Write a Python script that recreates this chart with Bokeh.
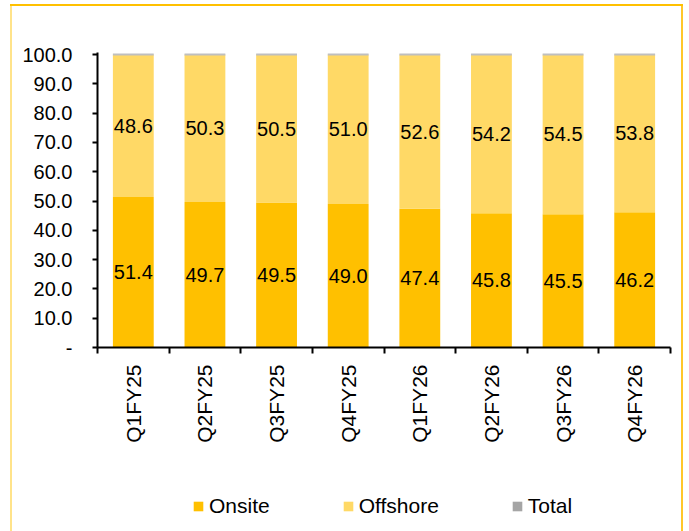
import math
from bokeh.plotting import figure
from bokeh.layouts import column
from bokeh.models import FixedTicker, Legend, LegendItem, ColumnDataSource, Range1d
from bokeh.core.properties import value
from bokeh.embed import file_html
from bokeh.resources import INLINE

quarters = ["Q1FY25", "Q2FY25", "Q3FY25", "Q4FY25", "Q1FY26", "Q2FY26", "Q3FY26", "Q4FY26"]
onsite = [51.4, 49.7, 49.5, 49.0, 47.4, 45.8, 45.5, 46.2]
offshore = [48.6, 50.3, 50.5, 51.0, 52.6, 54.2, 54.5, 53.8]
total = [a + b for a, b in zip(onsite, offshore)]
y_ticks = [0, 10, 20, 30, 40, 50, 60, 70, 80, 90, 100]
y_tick_labels = ["-", "10.0", "20.0", "30.0", "40.0", "50.0", "60.0", "70.0", "80.0", "90.0", "100.0"]
series_names = ["Onsite", "Offshore", "Total"]

FONT = "Liberation Sans"
C_ON = "#FFC000"
C_OFF = "#FFD966"
C_TOT = "#A5A5A5"

xc = [i + 0.5 for i in range(len(quarters))]
src = ColumnDataSource(dict(
    x=xc, onsite=onsite, offshore=offshore, total=total,
    on_mid=[v / 2 for v in onsite],
    off_mid=[a + b / 2 for a, b in zip(onsite, offshore)],
    on_lbl=[f"{v:.1f}" for v in onsite],
    off_lbl=[f"{v:.1f}" for v in offshore],
))

p = figure(width=673, height=460, output_backend="svg", toolbar_location=None,
           x_range=Range1d(0, len(quarters)), y_range=Range1d(0, 100.7),
           min_border_left=87, min_border_right=13, min_border_top=48, min_border_bottom=117)
p.border_fill_color = None
p.background_fill_color = "white"
p.outline_line_color = None
p.xgrid.grid_line_color = None
p.ygrid.grid_line_color = None

bw = 0.57
p.vbar(x="x", width=bw, bottom=0, top="onsite", source=src, fill_color=C_ON, line_color=None)
p.vbar(x="x", width=bw, bottom="onsite", top="total", source=src, fill_color=C_OFF, line_color=None)
p.vbar(x="x", width=bw, bottom="total", top="total", source=src, fill_color=C_TOT,
       line_color="#BFBFBF", line_width=2)

p.text(x="x", y="on_mid", text="on_lbl", source=src, text_align="center", text_baseline="middle",
       text_font=value(FONT), text_font_size="20px", text_color="black")
p.text(x="x", y="off_mid", text="off_lbl", source=src, text_align="center", text_baseline="middle",
       text_font=value(FONT), text_font_size="20px", text_color="black")

# y axis
ya = p.yaxis[0]
ya.ticker = FixedTicker(ticks=y_ticks, minor_ticks=[])
ya.major_label_overrides = {t: l for t, l in zip(y_ticks, y_tick_labels)}
ya.axis_line_width = 2
ya.major_tick_line_width = 2
ya.major_tick_out = 5
ya.major_tick_in = 0
ya.major_label_standoff = 20
ya.major_label_text_font = FONT
ya.major_label_text_font_size = "20px"
ya.major_label_text_color = "black"

# x axis
xa = p.xaxis[0]
xa.ticker = FixedTicker(ticks=xc, minor_ticks=list(range(len(quarters) + 1)))
xa.major_label_overrides = {x: q for x, q in zip(xc, quarters)}
xa.axis_line_width = 2
xa.major_tick_out = 0
xa.major_tick_in = 0
xa.minor_tick_out = 6
xa.minor_tick_in = 0
xa.minor_tick_line_width = 2
xa.minor_tick_line_color = "black"
xa.major_label_orientation = math.pi / 2
xa.major_label_standoff = 11
xa.major_label_text_font = FONT
xa.major_label_text_font_size = "21px"
xa.major_label_text_color = "black"

# legend strip (its renderers sit outside its visible range; only the legend shows)
leg = figure(width=673, height=67, output_backend="svg", toolbar_location=None,
             x_range=Range1d(0, 1), y_range=Range1d(0, 1),
             min_border=0, x_axis_type=None, y_axis_type=None)
leg.border_fill_color = None
leg.background_fill_color = None
leg.outline_line_color = None
leg.xgrid.grid_line_color = None
leg.ygrid.grid_line_color = None
hidden = ColumnDataSource(dict(x=[-10.0], top=[-10.0]))
rends = [leg.vbar(x="x", top="top", bottom=-11.0, width=0.1, source=hidden, fill_color=c, line_color=None)
         for c in (C_ON, C_OFF, C_TOT)]
legend = Legend(items=[LegendItem(label=n, renderers=[r]) for n, r in zip(series_names, rends)],
                orientation="horizontal", location=(95, 13),
                spacing=72, glyph_width=12, glyph_height=12, label_standoff=5,
                label_text_font=FONT, label_text_font_size="21px", label_text_color="black",
                border_line_color=None, background_fill_alpha=0, padding=0, margin=0)
leg.add_layout(legend, "center")

lay = column(p, leg, spacing=0)
lay.styles = {"margin-left": "10px", "margin-top": "4px", "background-color": "white",
              "box-shadow": "inset 0 2px 0 #FFC000, inset 2px 0 0 #FFE38A, inset -2px 0 0 #FFC72A"}

open("out.html", "w").write(file_html(lay, INLINE))
